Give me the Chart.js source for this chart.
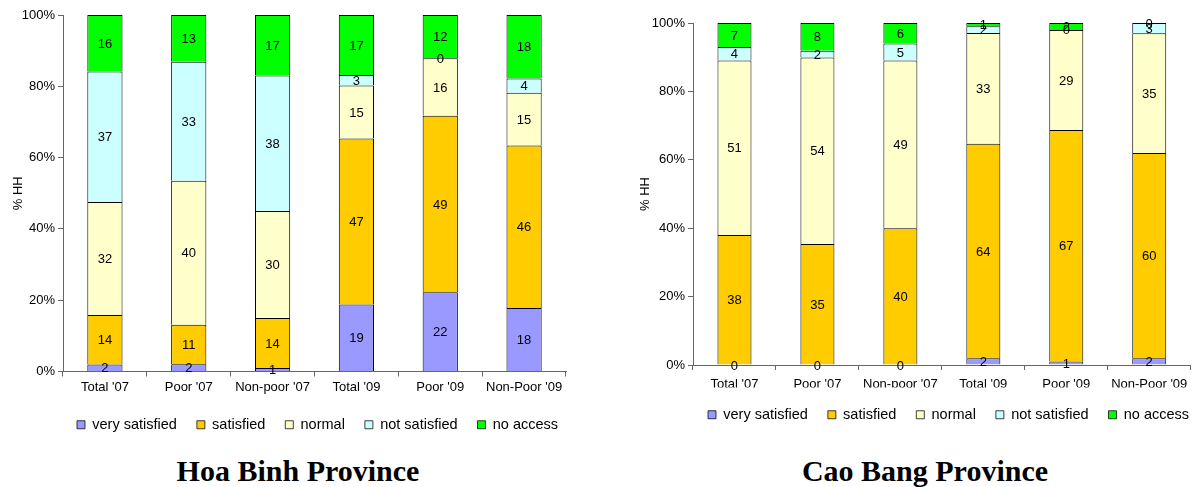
<!DOCTYPE html>
<html>
<head>
<meta charset="utf-8">
<script src="https://cdn.jsdelivr.net/npm/chart.js@4.4.0/dist/chart.umd.min.js"></script>
<style>
  body { margin: 0; background: #fff; width: 1194px; height: 487px; position: relative; overflow: hidden; }
  canvas { position: absolute; top: 0; }
  #hoaBinh { left: 0; }
  #caoBang { left: 600px; }
  .title { position: absolute; width: 400px; font-family: "Liberation Serif", serif; font-weight: bold;
           font-size: 30px; line-height: 30px; color: #000; text-align: center; white-space: nowrap; }
</style>
</head>
<body>
<canvas id="hoaBinh" width="600" height="442"></canvas>
<canvas id="caoBang" width="594" height="432"></canvas>
<div class="title" style="left:98px;top:456px">Hoa Binh Province</div>
<div class="title" style="left:725px;top:456px">Cao Bang Province</div>
<script>
const categories = ["Total '07", "Poor '07", "Non-poor '07", "Total '09", "Poor '09", "Non-Poor '09"];
const seriesNames = ['very satisfied', 'satisfied', 'normal', 'not satisfied', 'no access'];
const seriesColors = ['#9999FF', '#FFCC00', '#FFFFCC', '#CCFFFF', '#00FF00'];
const yTickValues = [0, 20, 40, 60, 80, 100];

// Hoa Binh, % of households
const hbVerySatisfied = [2, 2, 1, 19, 22, 18];
const hbSatisfied     = [14, 11, 14, 47, 49, 46];
const hbNormal        = [32, 40, 30, 15, 16, 15];
const hbNotSatisfied  = [37, 33, 38, 3, 0, 4];
const hbNoAccess      = [16, 13, 17, 17, 12, 18];

// Cao Bang, % of households
const cbVerySatisfied = [0, 0, 0, 2, 1, 2];
const cbSatisfied     = [38, 35, 40, 64, 67, 60];
const cbNormal        = [51, 54, 49, 33, 29, 35];
const cbNotSatisfied  = [4, 2, 5, 2, 0, 3];
const cbNoAccess      = [7, 8, 6, 1, 2, 0];

const FONT = '"Liberation Sans", Arial, sans-serif';

// 100% stacked: each column is scaled to its own total
function toShares(series) {
  const totals = categories.map((_, i) => series.reduce((s, arr) => s + arr[i], 0));
  return series.map(arr => arr.map((v, i) => totals[i] ? v / totals[i] * 100 : 0));
}

// number written in the middle of every segment
const segmentLabels = {
  id: 'segmentLabels',
  afterDatasetsDraw(chart) {
    const ctx = chart.ctx;
    ctx.save();
    ctx.font = '13px ' + FONT;
    ctx.fillStyle = '#000';
    ctx.textAlign = 'center';
    ctx.textBaseline = 'middle';
    chart.data.datasets.forEach((ds, di) => {
      chart.getDatasetMeta(di).data.forEach((bar, i) => {
        ctx.fillText(String(ds.counts[i]), bar.x, (bar.y + bar.base) / 2 + 1);
      });
    });
    ctx.restore();
  }
};

// moves the legend row so its first box starts at opts.x
const legendPlacement = {
  id: 'legendPlacement',
  afterLayout(chart, args, opts) {
    const lg = chart.legend;
    lg.left = opts.x - lg.options.labels.padding;
    lg.right = chart.width + 200;
  }
};

function makeChart(id, series, o) {
  const shares = toShares(series);
  const datasets = series.map((arr, k) => ({
    label: seriesNames[k],
    data: shares[k],
    counts: arr,
    backgroundColor: seriesColors[k],
    borderColor: '#000',
    borderWidth: { top: 1, left: 1, right: 1, bottom: 0 },
    borderSkipped: false,
    categoryPercentage: 1,
    barPercentage: o.barPct
  }));
  return new Chart(document.getElementById(id), {
    type: 'bar',
    data: { labels: categories, datasets },
    plugins: [segmentLabels, legendPlacement],
    options: {
      responsive: false,
      animation: false,
      events: [],
      layout: { padding: o.padding },
      plugins: {
        tooltip: { enabled: false },
        legendPlacement: { x: o.legendX },
        legend: {
          position: 'bottom',
          align: 'start',
          labels: { boxWidth: 8, boxHeight: 8, padding: 20, color: '#000', font: { family: FONT, size: 14.5 } }
        }
      },
      scales: {
        x: {
          stacked: true,
          offset: true,
          grid: { offset: true, drawOnChartArea: false, tickLength: 5, color: '#666' },
          border: { color: '#666' },
          ticks: { color: '#000', padding: o.xPad, maxRotation: 0, autoSkip: false, font: { family: FONT, size: 13 } },
          afterFit: s => { s.height = o.xHeight; }
        },
        y: {
          stacked: true,
          min: 0,
          max: 100,
          afterBuildTicks: s => { s.ticks = yTickValues.map(v => ({ value: v })); },
          grid: { drawOnChartArea: false, tickLength: 5, color: '#666' },
          border: { color: '#666' },
          ticks: { color: '#000', padding: 3, callback: v => v + '%', font: { family: FONT, size: 13 } },
          title: { display: true, text: '% HH', color: '#000', padding: { top: o.yTitlePad, bottom: 0 }, font: { family: FONT, size: 13 } },
          afterFit: s => { s.width = o.yWidth; }
        }
      }
    }
  });
}

makeChart('hoaBinh', [hbVerySatisfied, hbSatisfied, hbNormal, hbNotSatisfied, hbNoAccess], {
  padding: { top: 15, right: 34, left: 0, bottom: 0 }, yWidth: 63, xHeight: 26, xPad: 3,
  barPct: 0.42, yTitlePad: 11, legendX: 77
});
makeChart('caoBang', [cbVerySatisfied, cbSatisfied, cbNormal, cbNotSatisfied, cbNoAccess], {
  padding: { top: 23, right: 2, left: 30, bottom: 0 }, yWidth: 63, xHeight: 22.5, xPad: 6.5,
  barPct: 0.41, yTitlePad: 8, legendX: 108
});
</script>
</body>
</html>
